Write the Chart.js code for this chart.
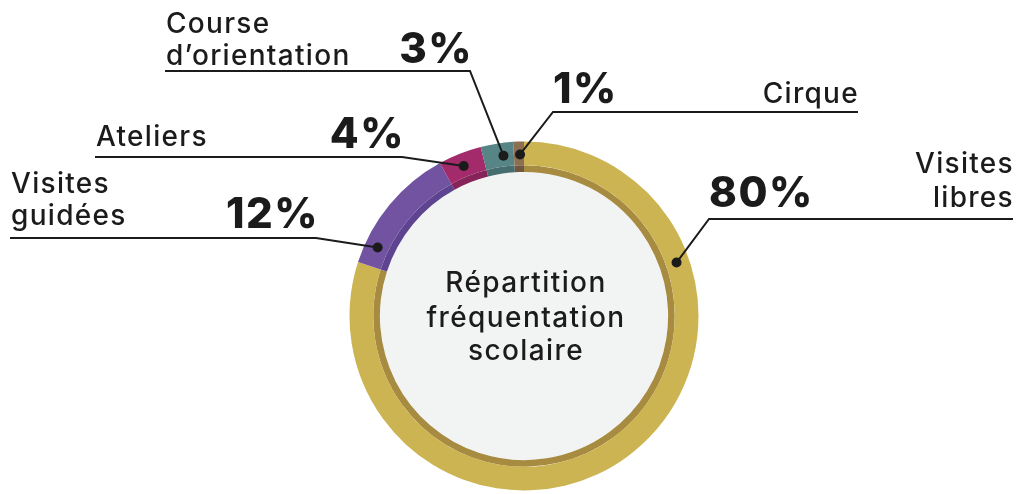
<!DOCTYPE html>
<html lang="fr">
<head>
<meta charset="utf-8">
<title>Répartition fréquentation scolaire</title>
<script src="https://cdn.jsdelivr.net/npm/chart.js@4.4.1/dist/chart.umd.min.js"></script>
<style>
  html, body { margin: 0; padding: 0; background: #ffffff; }
  #wrap { position: relative; width: 1022px; height: 494px; }
</style>
</head>
<body>
<div id="wrap"><canvas id="c"></canvas></div>
<script>
/* data — clockwise from 12 o'clock */
const categories = ["Visites libres", "Visites guidées", "Ateliers", "Course d’orientation", "Cirque"];
const shares = [80, 12, 4, 3, 1];                       // %
const ringColors = ["#cdb452", "#7153a2", "#a32a6b", "#578484", "#8c6e50"];
const edgeColors = ["#a68b40", "#5d4390", "#86245a", "#466e6e", "#6f583f"];
const centerTitle = ["Répartition", "fréquentation", "scolaire"];

/* callout layout (annotation only): where each leader leaves the ring and where its text sits */
const callouts = [
  { lines: ["Visites", "libres"], at: 70.7, elbow: [709, 219], end: 1013, side: "right", base: [173, 207], pctBase: 207 },
  { lines: ["Visites", "guidées"], at: -64.9, elbow: [316, 238], end: 10, side: "left", base: [193, 225], pctBase: 228 },
  { lines: ["Ateliers"], at: -21.9, elbow: [402, 157], end: 95, side: "left", base: [146], pctBase: 148 },
  { lines: ["Course", "d’orientation"], at: -7.3, elbow: [470, 71], end: 165, side: "left", base: [33, 65], pctBase: 63 },
  { lines: ["Cirque"], at: -1.4, elbow: [553, 112], end: 858, side: "right", base: [103], pctBase: 103 },
];

const FONT = '"Inter", "Open Sans", sans-serif';
const INK = "#1b1b1b";

const decor = {
  id: "decor",
  beforeDatasetsDraw(chart) {
    const a = chart.getDatasetMeta(1).data[0];
    const { x, y, innerRadius } = a.getProps(["x", "y", "innerRadius"], true);
    const ctx = chart.ctx;
    ctx.save();
    ctx.fillStyle = "#f2f4f3";
    ctx.beginPath();
    ctx.arc(x, y, innerRadius, 0, Math.PI * 2);
    ctx.fill();
    ctx.restore();
  },
  afterDraw(chart) {
    const ctx = chart.ctx;
    const a = chart.getDatasetMeta(0).data[0];
    const { x: cx, y: cy, innerRadius, outerRadius } = a.getProps(["x", "y", "innerRadius", "outerRadius"], true);
    const rDot = (innerRadius + outerRadius) / 2 - 1;
    ctx.save();

    // centre title
    ctx.fillStyle = INK;
    ctx.textAlign = "center";
    ctx.textBaseline = "alphabetic";
    ctx.font = `500 28px ${FONT}`;
    ctx.letterSpacing = "1.4px";
    [292, 327, 360].forEach((by, i) => ctx.fillText(centerTitle[i], cx + 2, by));

    callouts.forEach((c, i) => {
      const t = (c.at - 90) * Math.PI / 180;
      const dx = cx + rDot * Math.cos(t), dy = cy + rDot * Math.sin(t);
      // leader
      ctx.strokeStyle = INK;
      ctx.lineWidth = 2;
      ctx.beginPath();
      ctx.moveTo(dx, dy);
      ctx.lineTo(c.elbow[0], c.elbow[1]);
      ctx.lineTo(c.end, c.elbow[1]);
      ctx.stroke();
      ctx.fillStyle = INK;
      ctx.beginPath();
      ctx.arc(dx, dy, 5, 0, Math.PI * 2);
      ctx.fill();

      // category name, aligned to the far end of the leader
      ctx.font = `500 28px ${FONT}`;
      ctx.letterSpacing = "1.3px";
      ctx.textAlign = c.side === "right" ? "right" : "left";
      const tx = c.side === "right" ? c.end + 1 : c.end + 1;
      c.lines.forEach((ln, k) => ctx.fillText(ln, tx, c.base[k]));

      // percentage, aligned to the elbow
      ctx.font = `800 42px ${FONT}`;
      ctx.letterSpacing = "1.5px";
      ctx.textAlign = c.side === "right" ? "left" : "right";
      ctx.fillText(shares[i] + "%", c.elbow[0] + (c.side === "right" ? 0 : 3), c.pctBase);
    });
    ctx.restore();
  },
};

new Chart(document.getElementById("c"), {
  type: "doughnut",
  data: {
    labels: categories,
    datasets: [
      { data: shares, backgroundColor: ringColors, weight: 21.5 },
      { data: shares, backgroundColor: edgeColors, weight: 6 },
    ],
  },
  options: {
    responsive: true,
    maintainAspectRatio: false,
    animation: false,
    events: [],
    radius: 174.5,
    cutout: 147,
    rotation: 0,
    borderWidth: 0,
    spacing: 0,
    hoverOffset: 0,
    layout: { padding: { left: 26, right: 0, top: 138, bottom: 0 } },
    elements: { arc: { borderWidth: 0, hoverOffset: 0, offset: 0 } },
    plugins: { legend: { display: false }, tooltip: { enabled: false }, title: { display: false } },
  },
  plugins: [decor],
});
</script>
</body>
</html>
